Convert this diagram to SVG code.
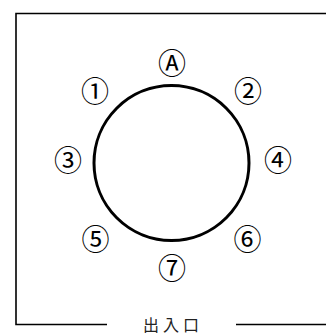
<svg xmlns="http://www.w3.org/2000/svg" width="326" height="336" viewBox="0 0 326 336">
<style>
.wall{fill:none;stroke:#000;stroke-width:1.6}
.lbl{font-family:"Noto Sans CJK JP","Noto Sans CJK SC","DejaVu Sans",sans-serif;font-size:28px;text-anchor:middle;dominant-baseline:central;fill:#000}
.door{font-family:"Noto Sans CJK JP","Noto Sans CJK SC",sans-serif;font-size:16px;text-anchor:middle;fill:#222;letter-spacing:4px}
</style>
<rect width="326" height="336" fill="#fff"/>
<g id="walls">
<polyline class="wall" points="326,13.5 16,13.5 16,324.5 107,324.5"/>
<line class="wall" x1="236" y1="324.5" x2="326" y2="324.5"/>
</g>
<circle id="table" cx="171.5" cy="163" r="77.5" fill="none" stroke="#000" stroke-width="3"/>
<g id="labels">
<text class="lbl" x="172" y="62">Ⓐ</text>
<text class="lbl" x="95" y="90">①</text>
<text class="lbl" x="248" y="90">②</text>
<text class="lbl" x="68" y="159">③</text>
<text class="lbl" x="278" y="159">④</text>
<text class="lbl" x="95.5" y="238">⑤</text>
<text class="lbl" x="247.5" y="238">⑥</text>
<text class="lbl" x="172" y="267">⑦</text>
</g>
<text class="door" x="173" y="331">出入口</text>
</svg>
